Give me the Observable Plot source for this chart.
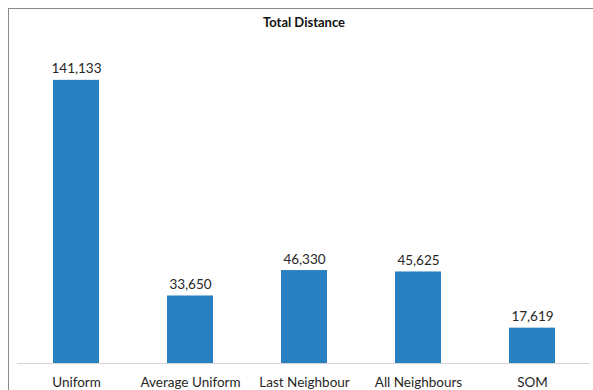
<!DOCTYPE html>
<html>
<head>
<meta charset="utf-8">
<script src="https://cdn.jsdelivr.net/npm/d3@7"></script>
<script src="https://cdn.jsdelivr.net/npm/@observablehq/plot@0.6"></script>
<style>
  html, body { margin: 0; padding: 0; background: #fff; overflow: hidden; }
  #wrap { position: relative; width: 593px; height: 390px; }
  #frame { position: absolute; left: 8px; top: 8px; width: 700px; height: 500px; border: 1px solid #8a8a8a; pointer-events: none; z-index: 5; }
  #title { position: absolute; left: 0; top: 14px; width: 608px; text-align: center; font: bold 13px Lato, "Open Sans", sans-serif; color: #111; line-height: 16px; }
  #chart { position: absolute; left: 0; top: 34px; }
</style>
</head>
<body>
<div id="wrap">
  <div id="title">Total Distance</div>
  <div id="chart"></div>
  <div id="frame"></div>
</div>
<script>
const categories = ["Uniform", "Average Uniform", "Last Neighbour", "All Neighbours", "SOM"];
const values = [141133, 33650, 46330, 45625, 17619];
const yMax = 160000;

const data = categories.map((c, i) => ({category: c, value: values[i]}));
const fmt = d3.format(",");

const plot = Plot.plot({
  width: 593,
  height: 356,
  marginTop: 8,
  marginBottom: 27,
  marginLeft: 17,
  marginRight: 3,
  style: { fontFamily: "Lato, 'Open Sans', sans-serif", fontSize: "13.5px", color: "#262626", background: "transparent" },
  x: { domain: categories, paddingInner: 0.6, paddingOuter: 0.3, label: null, tickSize: 0, tickPadding: 14 },
  y: { domain: [0, yMax], axis: null },
  marks: [
    Plot.barY(data, { x: "category", y: "value", fill: "#2a81c2" }),
    Plot.ruleY([0], { stroke: "#d4d4d4", strokeWidth: 1 }),
    Plot.text(data, { x: "category", y: "value", text: d => fmt(d.value), lineAnchor: "bottom", dy: -7, fill: "#262626", fontSize: 13.5 })
  ]
});
document.getElementById("chart").appendChild(plot);
</script>
</body>
</html>
